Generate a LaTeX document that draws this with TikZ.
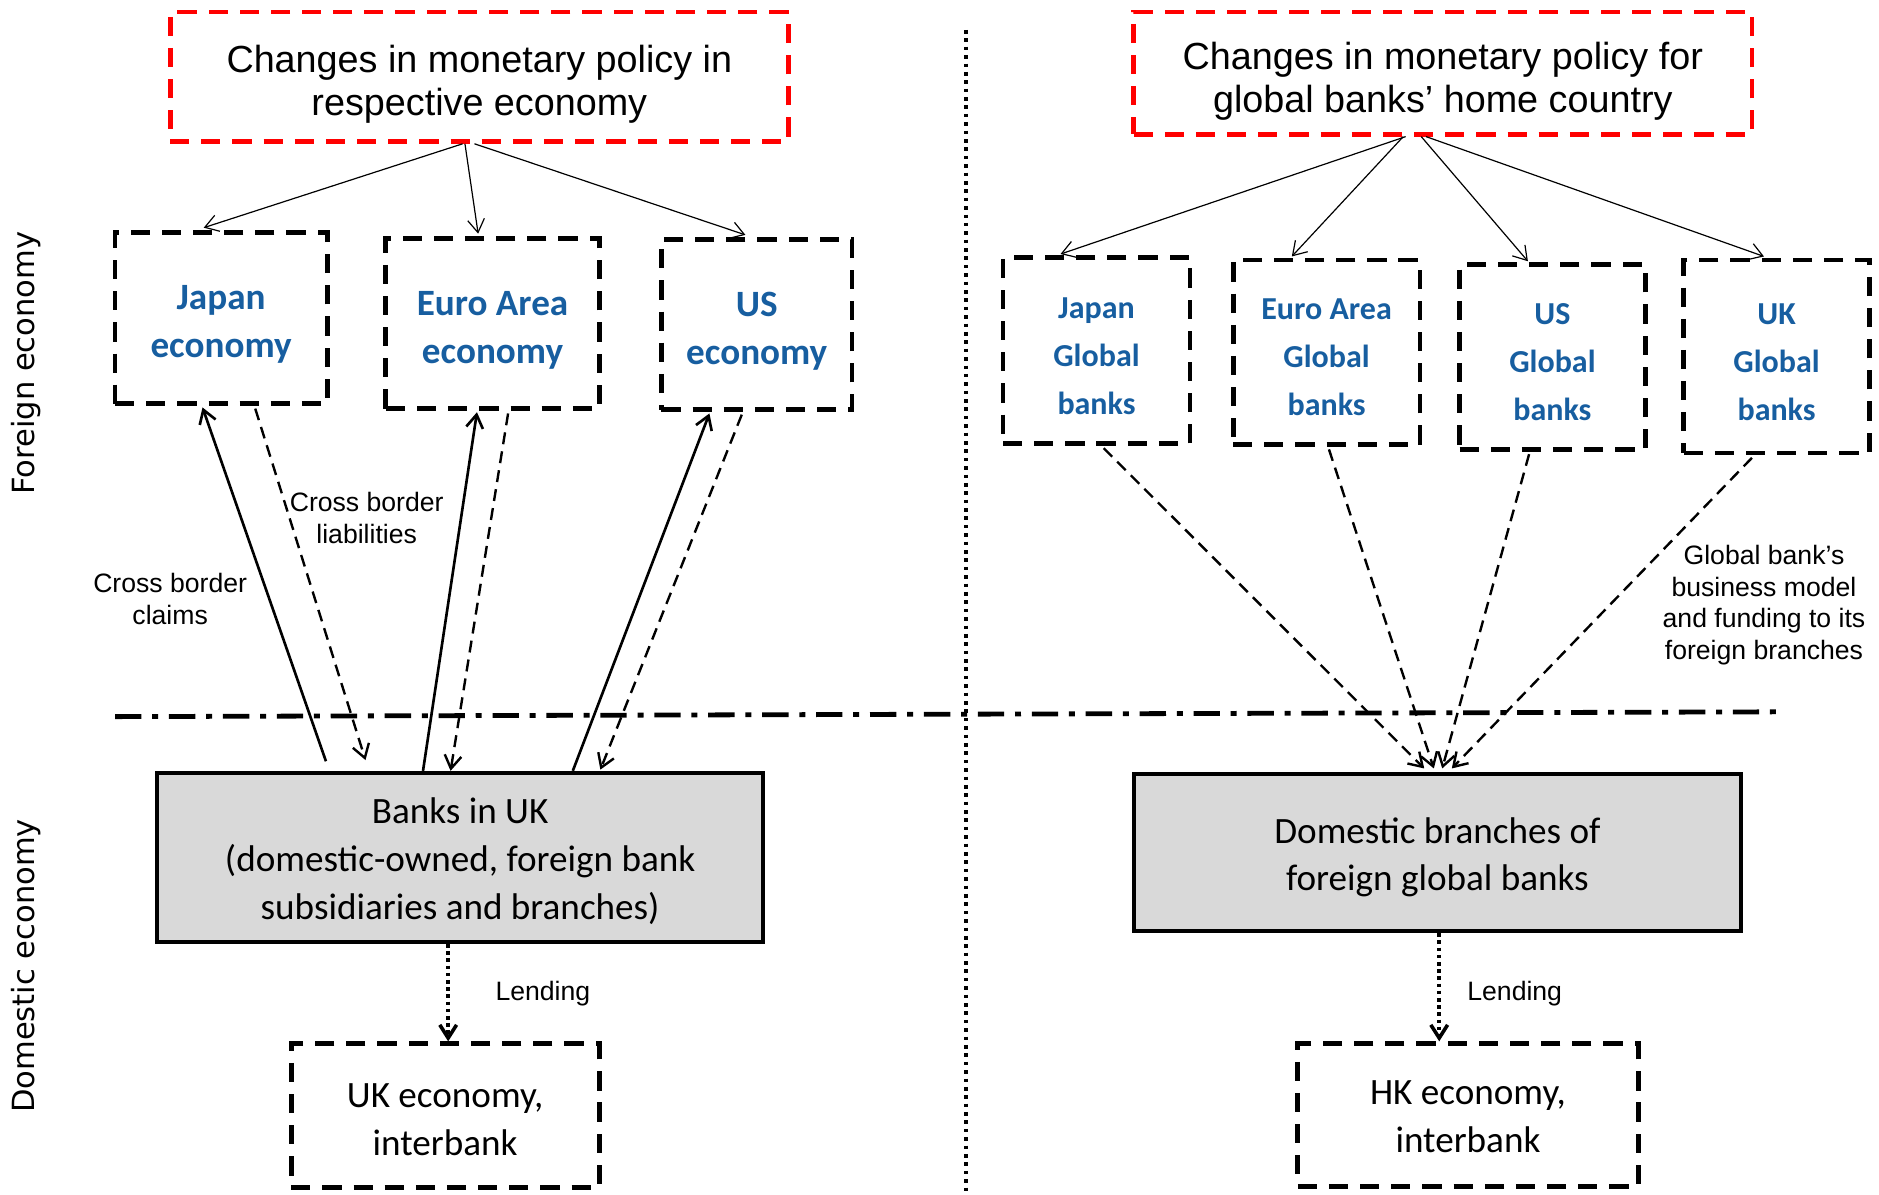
\documentclass[tikz,border=0pt]{standalone}
\usepackage{fontspec}
\setmainfont{Liberation Sans}
\newfontfamily\calfont{Carlito}
\newfontfamily\sidefont{DejaVu Sans}
\usetikzlibrary{arrows.meta,calc}
\definecolor{boxblue}{RGB}{23,94,160}
\definecolor{boxgray}{RGB}{217,217,217}
\newcommand\lowered[2]{\raisebox{-#1}[\height][\depth]{\begin{tabular}{@{}c@{}}#2\end{tabular}}}
\tikzset{
  redbox/.style={draw=red, line width=4pt, dash pattern=on 16pt off 10pt, rectangle, inner sep=0pt, align=center,
    font=\fontsize{31.5}{36}\selectfont},
  blkbox/.style={draw=black, line width=4pt, dash pattern=on 16pt off 10pt, rectangle, inner sep=0pt, align=center},
  econtext/.style={text=boxblue, font=\calfont\bfseries\fontsize{31}{40}\selectfont},
  gbtext/.style={text=boxblue, font=\calfont\bfseries\fontsize{26.7}{40}\selectfont},
  graybox/.style={draw=black, line width=3.5pt, fill=boxgray, rectangle, inner sep=0pt, align=center,
    font=\calfont\fontsize{31}{40}\selectfont},
  plaintext/.style={font=\calfont\fontsize{31}{40}\selectfont},
  lbl/.style={align=center, inner sep=0pt, font=\fontsize{22.2}{26.5}\selectfont},
  tip/.style={-{Straight Barb[length=11pt,width=14pt]}},
  thinarrow/.style={tip, line width=1pt},
  claim/.style={tip, line width=2.2pt},
  liab/.style={tip, line width=2pt, dash pattern=on 10pt off 6pt},
  fund/.style={tip, line width=2pt, dash pattern=on 10pt off 6pt},
  lend/.style={tip, line width=3pt, dash pattern=on 3pt off 3pt},
  sidelbl/.style={rotate=90, inner sep=0pt, font=\sidefont\fontsize{25.5}{28}\selectfont}
}
\begin{document}
\begin{tikzpicture}[x=1pt,y=-1pt]
\useasboundingbox (0,0) rectangle (1568,997);

% separators
\coordinate (hl) at (96,598);
\coordinate (hr) at (1485,594);
\coordinate (vt) at (806,25);
\coordinate (vb) at (806,997);
\draw[line width=4pt, dash pattern=on 22pt off 9pt on 5pt off 9pt] (hl) -- (hr);
\draw[line width=3pt, dash pattern=on 3pt off 4pt] (vt) -- (vb);

% side labels
\node[sidelbl] (fe) at (22,303) {Foreign economy};
\node[sidelbl] (de) at (22,806) {Domestic economy};

% top policy boxes
\node[redbox, minimum width=516pt, minimum height=108pt] (lr) at (400,64)
  {\lowered{7pt}{Changes in monetary policy in\\respective economy}};
\node[redbox, minimum width=516pt, minimum height=102pt] (rr) at (1204,61)
  {\lowered{8pt}{Changes in monetary policy for\\global banks’ home country}};

% foreign economies (left)
\node[blkbox, econtext, minimum width=177pt, minimum height=143pt] (jp) at (184.5,265.5) {\lowered{5pt}{Japan\\economy}};
\node[blkbox, econtext, minimum width=178pt, minimum height=142pt] (ea) at (411,270) {\lowered{5pt}{Euro Area\\economy}};
\node[blkbox, econtext, minimum width=159pt, minimum height=142pt] (us) at (631.5,271) {\lowered{5pt}{US\\economy}};

% global banks (right)
\node[blkbox, gbtext, minimum width=156pt, minimum height=155pt] (gbjp) at (915,292.5) {\lowered{5pt}{Japan\\Global\\banks}};
\node[blkbox, gbtext, minimum width=156pt, minimum height=154pt] (gbea) at (1107,294) {\lowered{5pt}{Euro Area\\Global\\banks}};
\node[blkbox, gbtext, minimum width=155pt, minimum height=154pt] (gbus) at (1295.5,298) {\lowered{5pt}{US\\Global\\banks}};
\node[blkbox, gbtext, minimum width=155pt, minimum height=161pt] (gbuk) at (1482.5,297.5) {\lowered{5pt}{UK\\Global\\banks}};

% domestic banks
\node[graybox, minimum width=506pt, minimum height=141pt] (bim) at (384,715.5)
  {\lowered{4pt}{Banks in UK\\(domestic-owned, foreign bank\\subsidiaries and branches)}};
\node[graybox, minimum width=507pt, minimum height=131pt] (dom) at (1199.5,711.5)
  {\lowered{4pt}{Domestic branches of\\foreign global banks}};

% domestic economies
\node[blkbox, plaintext, minimum width=257pt, minimum height=120pt] (uke) at (371.5,931) {\lowered{5pt}{UK economy,\\interbank}};
\node[blkbox, plaintext, minimum width=284pt, minimum height=119pt] (hke) at (1225,930.5) {\lowered{3pt}{HK economy,\\interbank}};

% policy arrows left
\draw[thinarrow] ([xshift=-14pt]lr.south) -- ([xshift=-14.5pt,yshift=2pt]jp.north);
\draw[thinarrow] ([xshift=-12pt]lr.south) -- ([xshift=-12pt,yshift=2pt]ea.north);
\draw[thinarrow] ([xshift=-4pt]lr.south) -- ([xshift=-9.5pt,yshift=2pt]us.north);

% policy arrows right
\draw[thinarrow] ([xshift=-31pt]rr.south) -- ([xshift=-30pt,yshift=1pt]gbjp.north);
\draw[thinarrow] ([xshift=-33pt]rr.south) -- ([xshift=-29pt,yshift=1pt]gbea.north);
\draw[thinarrow] ([xshift=-18pt]rr.south) -- ([xshift=-20.5pt,yshift=1pt]gbus.north);
\draw[thinarrow] ([xshift=-14pt]rr.south) -- ([xshift=-10.5pt,yshift=1pt]gbuk.north);

% cross border claims (solid) and liabilities (dashed)
\draw[claim] ([xshift=-112pt,yshift=8pt]bim.north) -- ([xshift=-15.5pt,yshift=-1pt]jp.south);
\draw[liab] ([xshift=28.5pt,yshift=-2pt]jp.south) -- ([xshift=-79pt,yshift=9pt]bim.north);
\draw[claim] ([xshift=-31pt]bim.north) -- ([xshift=-13pt,yshift=-1pt]ea.south);
\draw[liab] ([xshift=13pt,yshift=-2pt]ea.south) -- ([xshift=-8pt]bim.north);
\draw[claim] ([xshift=94pt]bim.north) -- ([xshift=-39.5pt,yshift=-1pt]us.south);
\draw[liab] ([xshift=-12.5pt,yshift=-2pt]us.south) -- ([xshift=117pt,yshift=1pt]bim.north);

% funding arrows right
\draw[fund] ([xshift=6pt,yshift=-2pt]gbjp.south) -- ([xshift=-11pt,yshift=3pt]dom.north);
\draw[fund] ([xshift=2pt,yshift=-2pt]gbea.south) -- ([xshift=-3pt,yshift=3pt]dom.north);
\draw[fund] ([xshift=-19.5pt,yshift=-2pt]gbus.south) -- ([xshift=4pt,yshift=3pt]dom.north);
\draw[fund] ([xshift=-20.5pt,yshift=-2pt]gbuk.south) -- ([xshift=12pt,yshift=3pt]dom.north);

% lending
\draw[lend] ([xshift=-10pt]bim.south) -- ([xshift=2.5pt]uke.north);
\draw[lend] ([xshift=1.5pt]dom.south) -- ([xshift=-24pt]hke.north);

% labels
\node[lbl] (lcl) at (142,500) {Cross border\\claims};
\node[lbl] (lli) at (306,432) {Cross border\\liabilities};
\node[lbl] (lgb) at (1472,505) {Global bank’s\\business model\\and funding to its\\foreign branches};
\node[lbl] (lend1) at (453,829) {Lending};
\node[lbl] (lend2) at (1264,829) {Lending};
\end{tikzpicture}
\end{document}
